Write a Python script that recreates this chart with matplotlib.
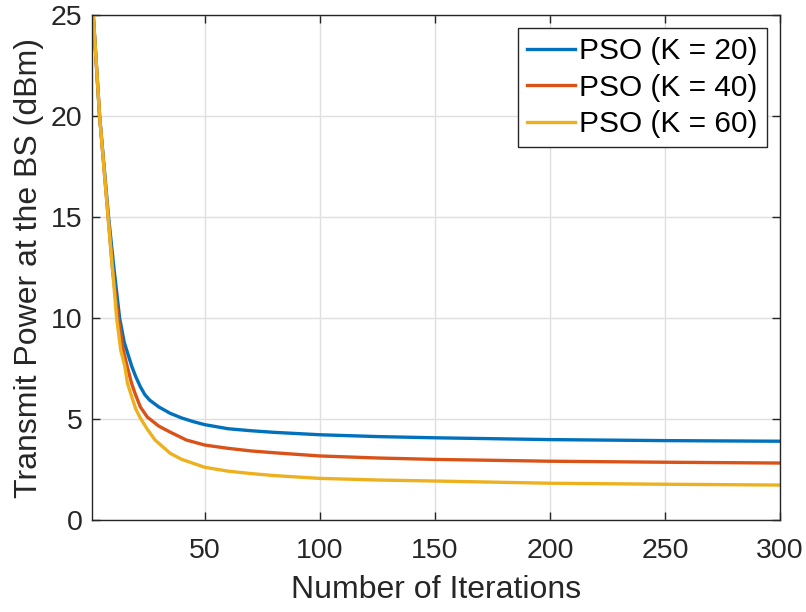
import matplotlib
matplotlib.use("Agg")
import matplotlib.pyplot as plt

plt.rcParams['font.family'] = ['Liberation Sans', 'DejaVu Sans']

# Data
iter_k20 = [1, 4.3, 8.2, 10.5, 13, 15, 18.3, 20, 22, 24, 26, 30, 35, 40, 45, 50, 60, 70, 80, 100, 125, 150, 200, 250, 300]
power_k20 = [26, 20, 15, 12.5, 10, 8.8, 7.6, 7.1, 6.6, 6.2, 5.94, 5.6, 5.28, 5.05, 4.87, 4.72, 4.52, 4.42, 4.34, 4.22, 4.13, 4.07, 3.98, 3.93, 3.90]

iter_k40 = [1, 4.3, 8, 10, 12.4, 14.6, 16.3, 18.2, 19.7, 22, 25, 30, 35, 42, 50, 60, 70, 80, 100, 125, 150, 200, 250, 300]
power_k40 = [26, 20, 15, 12.3, 10, 8.4, 7.6, 6.77, 6.27, 5.6, 5.1, 4.65, 4.35, 3.96, 3.71, 3.55, 3.42, 3.33, 3.17, 3.07, 3.0, 2.91, 2.86, 2.82]

iter_k60 = [1, 4.3, 8, 9.5, 11.7, 13.5, 15.3, 16.4, 17.8, 20, 22, 25, 28.4, 35, 40, 50, 60, 70, 80, 100, 125, 150, 200, 250, 300]
power_k60 = [26, 20, 15, 13, 10, 8.4, 7.6, 6.77, 6.27, 5.5, 5.05, 4.5, 3.96, 3.3, 3.0, 2.61, 2.42, 2.3, 2.2, 2.06, 1.98, 1.93, 1.82, 1.77, 1.73]

labels = ['PSO (K = 20)', 'PSO (K = 40)', 'PSO (K = 60)']
colors = ['#0072BD', '#D95319', '#EDB120']

x_ticks = [50, 100, 150, 200, 250, 300]
y_ticks = [0, 5, 10, 15, 20, 25]

fig = plt.figure(figsize=(8.06, 6.12), dpi=100)
ax = fig.add_axes([92/806, 1 - 520/612, (780-92)/806, (520-15)/612])

for xs, ys, lab, c in zip([iter_k20, iter_k40, iter_k60],
                          [power_k20, power_k40, power_k60], labels, colors):
    ax.plot(xs, ys, color=c, lw=2.4, label=lab, solid_joinstyle='round')

ax.set_xlim(1, 300)
ax.set_ylim(0, 25)
ax.set_xticks(x_ticks)
ax.set_yticks(y_ticks)
ax.grid(True, color='#DFDFDF', lw=1.0)
ax.set_axisbelow(True)

for s in ax.spines.values():
    s.set_color('#262626')
    s.set_linewidth(1.0)
ax.tick_params(direction='in', length=5.5, width=1.0, color='#262626',
               labelsize=20.5, labelcolor='#262626', top=True, right=True)
ax.tick_params(axis='x', pad=13)
ax.tick_params(axis='y', pad=7)

ax.set_xlabel('Number of Iterations', fontsize=23, color='#262626', labelpad=8)
ax.set_ylabel('Transmit Power at the BS (dBm)', fontsize=23, color='#262626', labelpad=5)

leg = ax.legend(loc='upper right', fontsize=21.5, frameon=True, fancybox=False,
                edgecolor='#262626', framealpha=1, handlelength=1.6,
                handletextpad=0.15, labelspacing=0.28, borderpad=0.3,
                borderaxespad=0.45)
leg.get_frame().set_linewidth(1.0)

fig.savefig('out.png', dpi=100)
